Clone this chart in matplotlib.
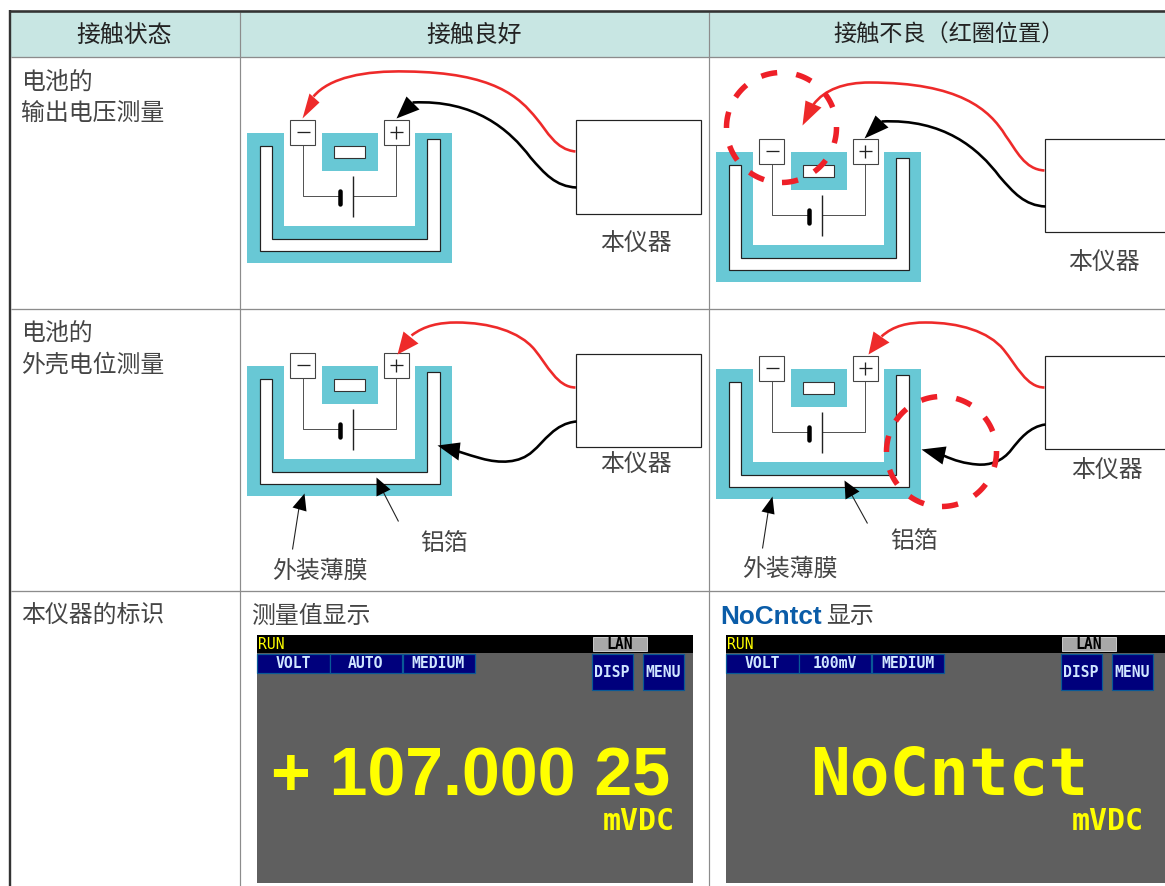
import numpy as np
import matplotlib
matplotlib.use("Agg")
import matplotlib.pyplot as plt
from matplotlib.patches import Polygon, Rectangle, PathPatch
from matplotlib.path import Path

plt.rcParams['font.family'] = ['Noto Sans CJK SC', 'DejaVu Sans']

TEAL = "#68c8d5"
RED = "#ee2a2a"
DASH_RED = "#ee2028"
LINE = "#8c8c8c"
BODY = "#444444"
CJK = ['Noto Sans CJK SC', 'DejaVu Sans']

# table text
headers = ["接触状态", "接触良好", "接触不良（红圈位置）"]
row_labels = [["电池的", "输出电压测量"], ["电池的", "外壳电位测量"], ["本仪器的标识"]]

# diagram offsets against the first diagram
diagram_offsets = [(0, 0), (469, 19), (0, 233), (469, 236)]

# battery outline, all in picture pixels
pouch = [(247, 133), (284, 133), (284, 226), (415, 226), (415, 133), (452, 133), (452, 263), (247, 263)]
foil = [(260, 146), (272, 146), (272, 239), (427, 239), (427, 139), (440, 139), (440, 251), (260, 251)]

# wires: start point, then bezier triples
red_wires = [
    [(576, 152), (556, 150), (548, 132), (537, 119), (520, 98), (495, 73), (407, 72), (365, 71), (330, 78), (314, 97)],
    [(1045, 171), (1025, 170), (1017, 151), (1006, 136), (990, 110), (960, 83), (870, 83), (845, 83), (825, 90), (814, 105)],
    [(576, 388), (558, 388), (548, 366), (535, 350), (520, 332), (490, 323), (457, 323), (440, 323), (425, 326), (412, 336)],
    [(1045, 388), (1027, 388), (1017, 366), (1004, 350), (989, 332), (960, 323), (926, 323), (909, 323), (894, 326), (882, 337)],
]
black_wires = [
    [(577, 188), (556, 187), (545, 174), (531, 158), (510, 130), (475, 100), (413, 103)],
    [(1046, 207), (1025, 206), (1014, 193), (1000, 177), (979, 149), (944, 119), (882, 122)],
    [(577, 422), (555, 424), (545, 442), (533, 452), (520, 464), (500, 464), (482, 459), (475, 457), (468, 455), (459, 452)],
    [(1046, 425), (1030, 427), (1020, 440), (1012, 450), (1003, 462), (990, 466), (978, 465), (965, 464), (955, 461), (944, 456)],
]
red_heads = [
    [(303, 119), (310, 94), (320, 103)],
    [(803, 126), (806, 101), (822, 108)],
    [(398, 355), (404, 332), (419, 344)],
    [(869, 355), (874, 332), (890, 343)],
]
black_heads = [
    [(397, 119), (407, 97), (420, 110)],
    [(865, 139), (876, 116), (889, 128)],
    [(438, 446), (461, 443), (459, 461)],
    [(922, 450), (947, 447), (943, 465)],
]

# thin pointers to pouch and foil
pointer_lines = [[(293, 550), (300, 505)], [(399, 522), (384, 493)], [(763, 549), (769, 510)], [(868, 524), (852, 495)]]
pointer_heads = [
    [(305, 494), (293, 508), (307, 512)],
    [(377, 478), (377, 497), (391, 490)],
    [(773, 497), (762, 512), (775, 515)],
    [(845, 481), (846, 500), (860, 492)],
]

# dashed red rings
ring_centers = [(782, 128), (942, 452)]
ring_radius = 55
dash_angles = [8, 45, 81, 117, 152, 188, 222, 257, 294, 330]
dash_span = 17

# instrument boxes: x, y, label x, label y
inst_boxes = [(576, 120.5, 636, 243), (1045, 139, 1104, 262), (576, 354, 636, 464), (1045, 356, 1107, 470)]

# screen contents
screen_lefts = [257, 726]
screen_right = [693, 1170]
mode_labels = [["VOLT", "AUTO", "MEDIUM"], ["VOLT", "100mV", "MEDIUM"]]
mode_x = [(257, 330), (330.6, 402), (403, 475)]
side_labels = ["DISP", "MENU"]
side_x = [(592, 633), (643, 684)]
big_values = ["+ 107.000 25", "NoCntct"]

fig = plt.figure(figsize=(11.65, 8.87), dpi=100)
ax = fig.add_axes([0, 0, 1, 1])
ax.set_xlim(0.5, 1165.5)
ax.set_ylim(886.5, -0.5)
ax.axis("off")


def px(w):
    return w * 0.72


def shift(points, dx, dy):
    return [(x + dx, y + dy) for x, y in points]


def wire(points, color, lw):
    codes = [Path.MOVETO] + [Path.CURVE4] * (len(points) - 1)
    ax.add_patch(PathPatch(Path(points, codes), fc="none", ec=color, lw=px(lw), capstyle="butt", zorder=4))


def head(points, color):
    ax.add_patch(Polygon(points, closed=True, fc=color, ec="none", zorder=5))


def seg(x, y, color="#555555", lw=1.0, z=3):
    ax.plot(x, y, color=color, lw=px(lw), solid_capstyle="butt", zorder=z)


def label(x, y, s, size=17.2, color=BODY, ha="center", va="center"):
    ax.text(x, y + 1, s, fontsize=size, color=color, ha=ha, va=va, family=CJK)


def battery(dx, dy):
    ax.add_patch(Polygon(shift(pouch, dx, dy), closed=True, fc=TEAL, ec="none", zorder=1))
    ax.add_patch(Polygon(shift(foil, dx, dy), closed=True, fc="white", ec="#222222", lw=px(1.2), zorder=2))
    ax.add_patch(Rectangle((322 + dx, 133 + dy), 56, 38, fc=TEAL, ec="none", zorder=1))
    ax.add_patch(Rectangle((334 + dx, 146 + dy), 31, 12, fc="white", ec="#333333", lw=px(1.1), zorder=2))
    # circuit
    seg([303 + dx, 303 + dx, 340 + dx], [145 + dy, 196 + dy, 196 + dy])
    seg([353 + dx, 396 + dx, 396 + dx], [196 + dy, 196 + dy, 145 + dy])
    seg([353 + dx, 353 + dx], [176 + dy, 217 + dy], "#222222", 1.4)
    ax.plot([340 + dx, 340 + dx], [191 + dy, 204 + dy], color="black", lw=px(4.5), solid_capstyle="round", zorder=3)
    # terminals
    for bx in (290, 384):
        ax.add_patch(Rectangle((bx + dx, 120 + dy), 25.5, 25, fc="white", ec="#444444", lw=px(1.1), zorder=3))
    seg([297 + dx, 310 + dx], [132.7 + dy, 132.7 + dy], "#222222", 1.3)
    seg([390 + dx, 403 + dx], [132.7 + dy, 132.7 + dy], "#222222", 1.3)
    seg([396.5 + dx, 396.5 + dx], [126 + dy, 139.5 + dy], "#222222", 1.3)


def screen(i):
    x0 = screen_lefts[i]
    dx = x0 - 257
    ax.add_patch(Rectangle((x0, 653), screen_right[i] - x0, 230, fc="#5f5f5f", ec="none", zorder=1))
    ax.add_patch(Rectangle((x0, 635), screen_right[i] - x0, 18, fc="black", ec="none", zorder=1))
    mono = "DejaVu Sans Mono"
    ax.text(x0 + 1.5, 644.5, "RUN", color="#ffff00", fontsize=10.6, family=mono, ha="left", va="center", zorder=3)
    ax.add_patch(Rectangle((593 + dx, 637), 54, 14, fc="#a8a8a8", ec="#c8c8c8", lw=px(1), zorder=2))
    ax.text(620 + dx, 644.5, "LAN", color="black", fontsize=10.6, family=mono, weight="bold", ha="center", va="center", zorder=3)
    for s, (a, b) in zip(mode_labels[i], mode_x):
        ax.add_patch(Rectangle((a + dx, 654), b - a, 19, fc="#00007c", ec="#0a5a96", lw=px(1.2), zorder=2))
        ax.text((a + b) / 2 + dx, 663.5, s, color="#d0e6ff", fontsize=10.6, family=mono, weight="bold", ha="center", va="center", zorder=3)
    for s, (a, b) in zip(side_labels, side_x):
        ax.add_patch(Rectangle((a + dx, 654), b - a, 36, fc="#00007c", ec="#0a5a96", lw=px(1.2), zorder=2))
        ax.text((a + b) / 2 + dx, 672.5, s, color="#d0e6ff", fontsize=10.6, family=mono, weight="bold", ha="center", va="center", zorder=3)
    ax.text(639 + dx, 830, "mVDC", color="#ffff00", fontsize=21.5, family=mono, weight="bold", ha="center", va="baseline", zorder=3)


# table frame
ax.add_patch(Rectangle((11, 12), 1154.5, 45.5, fc="#c8e6e3", ec="none", zorder=0))
for yy in (57.5, 309, 591.5):
    seg([11, 1166], [yy, yy], LINE, 1.3, 1)
for xx in (240.5, 709.5):
    seg([xx, xx], [12, 887], LINE, 1.2, 1)
seg([9.5, 1166], [11, 11], "#333333", 2.6, 2)
seg([10.5, 10.5], [10, 887], "#333333", 2.4, 2)

label(125, 34, headers[0], color="#222222")
label(475, 34, headers[1], color="#222222")
label(834, 34, headers[2], size=16.7, color="#222222", ha="left")

label(22, 81, row_labels[0][0], ha="left")
label(22, 113, row_labels[0][1], ha="left")
label(22, 332, row_labels[1][0], ha="left")
label(22, 364, row_labels[1][1], ha="left")
label(22, 615, row_labels[2][0], ha="left")

# diagrams
for i, (dx, dy) in enumerate(diagram_offsets):
    battery(dx, dy)
    bx, by, lx, ly = inst_boxes[i]
    ax.add_patch(Rectangle((bx, by), 125, 93.5, fc="white", ec="#222222", lw=px(1.2), zorder=3))
    label(lx, ly, "本仪器")
    wire(red_wires[i], RED, 2.6)
    head(red_heads[i], RED)
    wire(black_wires[i], "black", 2.6)
    head(black_heads[i], "black")

for line, tip in zip(pointer_lines, pointer_heads):
    seg([line[0][0], line[1][0]], [line[0][1], line[1][1]], "#222222", 1.1, 5)
    head(tip, "black")

for cx, cy in ring_centers:
    for ang in dash_angles:
        t = np.radians(np.linspace(ang - dash_span / 2, ang + dash_span / 2, 12))
        ax.plot(cx + ring_radius * np.cos(t), cy + ring_radius * np.sin(t), color=DASH_RED,
                lw=px(5.5), solid_capstyle="butt", zorder=6)

label(445, 543, "铝箔")
label(915, 541, "铝箔")
label(320, 570, "外装薄膜")
label(790, 568, "外装薄膜")

# third row
label(252, 615, "测量值显示", ha="left")
ax.text(721, 624, "NoCntct", color="#0a5ca8", fontsize=18.8, family="Liberation Sans", weight="bold", ha="left", va="baseline")
label(827, 615, "显示", ha="left")

screen(0)
screen(1)
ax.text(471, 795, big_values[0], color="#ffff00", fontsize=49, family="Liberation Sans", weight="bold",
        ha="center", va="baseline", zorder=3)
ax.text(949.5, 795, big_values[1], color="#ffff00", fontsize=47.5, family="DejaVu Sans Mono", weight="bold",
        ha="center", va="baseline", zorder=3)

fig.savefig("out.png", dpi=100)
